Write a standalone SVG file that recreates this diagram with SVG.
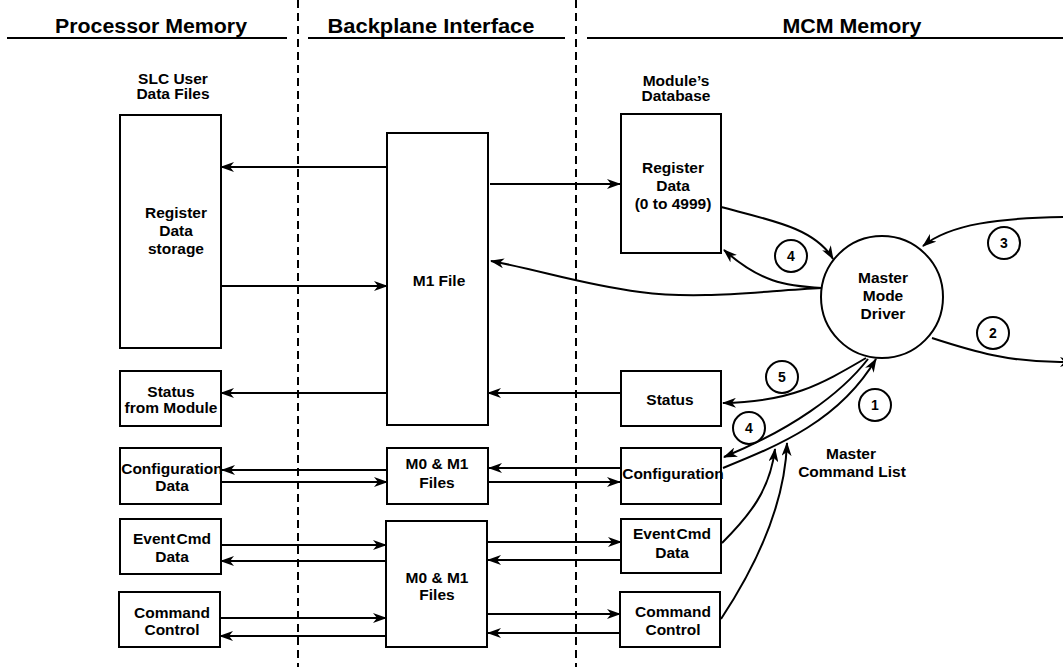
<svg xmlns="http://www.w3.org/2000/svg" width="1063" height="667" viewBox="0 0 1063 667">
<defs>
<marker id="ah" markerUnits="userSpaceOnUse" viewBox="0 0 14 10" refX="13" refY="5" markerWidth="14" markerHeight="10" orient="auto">
<path d="M0,0 L14,5 L0,10 L4,5 z" fill="#000"/>
</marker>
<style>
.bx{fill:#fff;stroke:#000;stroke-width:2}
.t{font-family:"Liberation Sans",Arial,sans-serif;font-weight:bold;font-size:15.5px;text-anchor:middle;fill:#000}
.h{font-family:"Liberation Sans",Arial,sans-serif;font-weight:bold;font-size:20px;text-anchor:middle;fill:#000}
.n{font-family:"Liberation Sans",Arial,sans-serif;font-weight:bold;font-size:14px;text-anchor:middle;fill:#000}
.c{fill:none;stroke:#000;stroke-width:2}
.a{fill:none;stroke:#000;stroke-width:2;marker-end:url(#ah)}
.d{stroke:#000;stroke-width:2;stroke-dasharray:8 5}
.u{stroke:#000;stroke-width:2}
</style>
</defs>
<rect width="1063" height="667" fill="#fff"/>

<g id="headers">
<line class="d" x1="298" y1="0" x2="298" y2="667"/>
<line class="d" x1="576" y1="0" x2="576" y2="667"/>
<line class="u" x1="7" y1="38" x2="287" y2="38"/>
<line class="u" x1="308" y1="38" x2="565" y2="38"/>
<line class="u" x1="587" y1="38" x2="1063" y2="38"/>
<text class="h" x="151" y="33" textLength="192" lengthAdjust="spacingAndGlyphs">Processor Memory</text>
<text class="h" x="431" y="33" textLength="207" lengthAdjust="spacingAndGlyphs">Backplane  Interface</text>
<text class="h" x="852" y="33" textLength="139" lengthAdjust="spacingAndGlyphs">MCM Memory</text>
<text class="t" x="173" y="84">SLC User</text>
<text class="t" x="173" y="99">Data Files</text>
<text class="t" x="676" y="86">Module’s</text>
<text class="t" x="676" y="101">Database</text>
<text class="t" x="851" y="459">Master</text>
<text class="t" x="852" y="477">Command List</text>
</g>

<g id="connectors">
<line class="a" x1="390" y1="167" x2="221" y2="167"/>
<line class="a" x1="221" y1="286" x2="387" y2="286"/>
<line class="a" x1="387" y1="393" x2="221" y2="393"/>
<line class="a" x1="490" y1="184" x2="620" y2="184"/>
<line class="a" x1="620" y1="393" x2="488" y2="393"/>
<line class="a" x1="387" y1="470" x2="222" y2="470"/>
<line class="a" x1="218" y1="482" x2="387" y2="482"/>
<line class="a" x1="620" y1="468" x2="489" y2="468"/>
<line class="a" x1="488" y1="482" x2="620" y2="482"/>
<line class="a" x1="221" y1="545" x2="386" y2="545"/>
<line class="a" x1="386" y1="561" x2="221" y2="561"/>
<line class="a" x1="220" y1="618" x2="386" y2="618"/>
<line class="a" x1="386" y1="636" x2="220" y2="636"/>
<line class="a" x1="487" y1="542" x2="621" y2="542"/>
<line class="a" x1="621" y1="560" x2="488" y2="560"/>
<line class="a" x1="487" y1="614" x2="620" y2="614"/>
<line class="a" x1="620" y1="633" x2="488" y2="633"/>
<path class="a" d="M721,207 C770,220 815,228 833,259"/>
<path class="a" d="M822,288 C785,286 760,282 724,250"/>
<path class="a" d="M822,288 C760,291 700,300 640,292 S540,270 491,261"/>
<path class="a" d="M1063,217 C1000,218 950,224 923,246"/>
<path class="a" d="M932,338 C975,352 1010,362 1060,362 L1073,362"/>
<path class="a" d="M866,358 C820,385 790,402 723,403"/>
<path class="a" d="M868,359 C840,395 790,430 724,457"/>
<path class="a" d="M723,468 C780,445 840,420 876,359"/>
<path class="a" d="M722,543 C750,515 770,490 775,449"/>
<path class="a" d="M721,619 C760,560 785,500 787,443"/>
</g>

<g id="reg-storage"><rect class="bx" x="120" y="115" width="101" height="233"/>
<text class="t" x="176" y="218">Register</text><text class="t" x="176" y="236">Data</text><text class="t" x="176" y="254">storage</text></g>
<g id="status-from-module"><rect class="bx" x="120" y="371" width="101" height="55"/>
<text class="t" x="171" y="397">Status</text><text class="t" x="171" y="413">from Module</text></g>
<g id="config-data"><rect class="bx" x="120" y="448" width="101" height="56"/>
<text class="t" x="172" y="474">Configuration</text><text class="t" x="172" y="491">Data</text></g>
<g id="eventcmd-data"><rect class="bx" x="120" y="519" width="101" height="55"/>
<text class="t" x="172" y="544" word-spacing="-3">Event Cmd</text><text class="t" x="172" y="562">Data</text></g>
<g id="command-control"><rect class="bx" x="119" y="592" width="101" height="55"/>
<text class="t" x="172" y="618">Command</text><text class="t" x="172" y="635">Control</text></g>

<g id="m1-file"><rect class="bx" x="387" y="133" width="101" height="292"/>
<text class="t" x="439" y="286">M1 File</text></g>
<g id="m0m1-small"><rect class="bx" x="387" y="448" width="101" height="56"/>
<text class="t" x="437" y="469">M0 &amp; M1</text><text class="t" x="437" y="488">Files</text></g>
<g id="m0m1-big"><rect class="bx" x="386" y="521" width="101" height="126"/>
<text class="t" x="437" y="583">M0 &amp; M1</text><text class="t" x="437" y="600">Files</text></g>

<g id="register-data"><rect class="bx" x="621" y="114" width="100" height="139"/>
<text class="t" x="673" y="173">Register</text><text class="t" x="673" y="191">Data</text><text class="t" x="673" y="209">(0 to 4999)</text></g>
<g id="status"><rect class="bx" x="621" y="371" width="100" height="55"/>
<text class="t" x="670" y="405">Status</text></g>
<g id="configuration"><rect class="bx" x="621" y="448" width="100" height="56"/>
<text class="t" x="673" y="479">Configuration</text></g>
<g id="eventcmd"><rect class="bx" x="621" y="519" width="100" height="54"/>
<text class="t" x="672" y="539" word-spacing="-3">Event Cmd</text><text class="t" x="672" y="558">Data</text></g>
<g id="cmdcontrol"><rect class="bx" x="620" y="592" width="100" height="55"/>
<text class="t" x="673" y="617">Command</text><text class="t" x="673" y="635">Control</text></g>

<g id="driver"><circle class="bx" cx="882" cy="297" r="61"/>
<text class="t" x="883" y="283">Master</text><text class="t" x="883" y="301">Mode</text><text class="t" x="883" y="319">Driver</text></g>

<g id="num4a"><circle class="bx" cx="791" cy="256" r="16"/><text class="n" x="791" y="261">4</text></g>
<g id="num3"><circle class="bx" cx="1004" cy="243" r="16"/><text class="n" x="1004" y="248">3</text></g>
<g id="num2"><circle class="bx" cx="993" cy="333" r="16"/><text class="n" x="993" y="338">2</text></g>
<g id="num5"><circle class="bx" cx="782" cy="377" r="16"/><text class="n" x="782" y="382">5</text></g>
<g id="num4b"><circle class="bx" cx="749" cy="428" r="16"/><text class="n" x="749" y="433">4</text></g>
<g id="num1"><circle class="bx" cx="875" cy="405" r="16"/><text class="n" x="875" y="410">1</text></g>
</svg>
